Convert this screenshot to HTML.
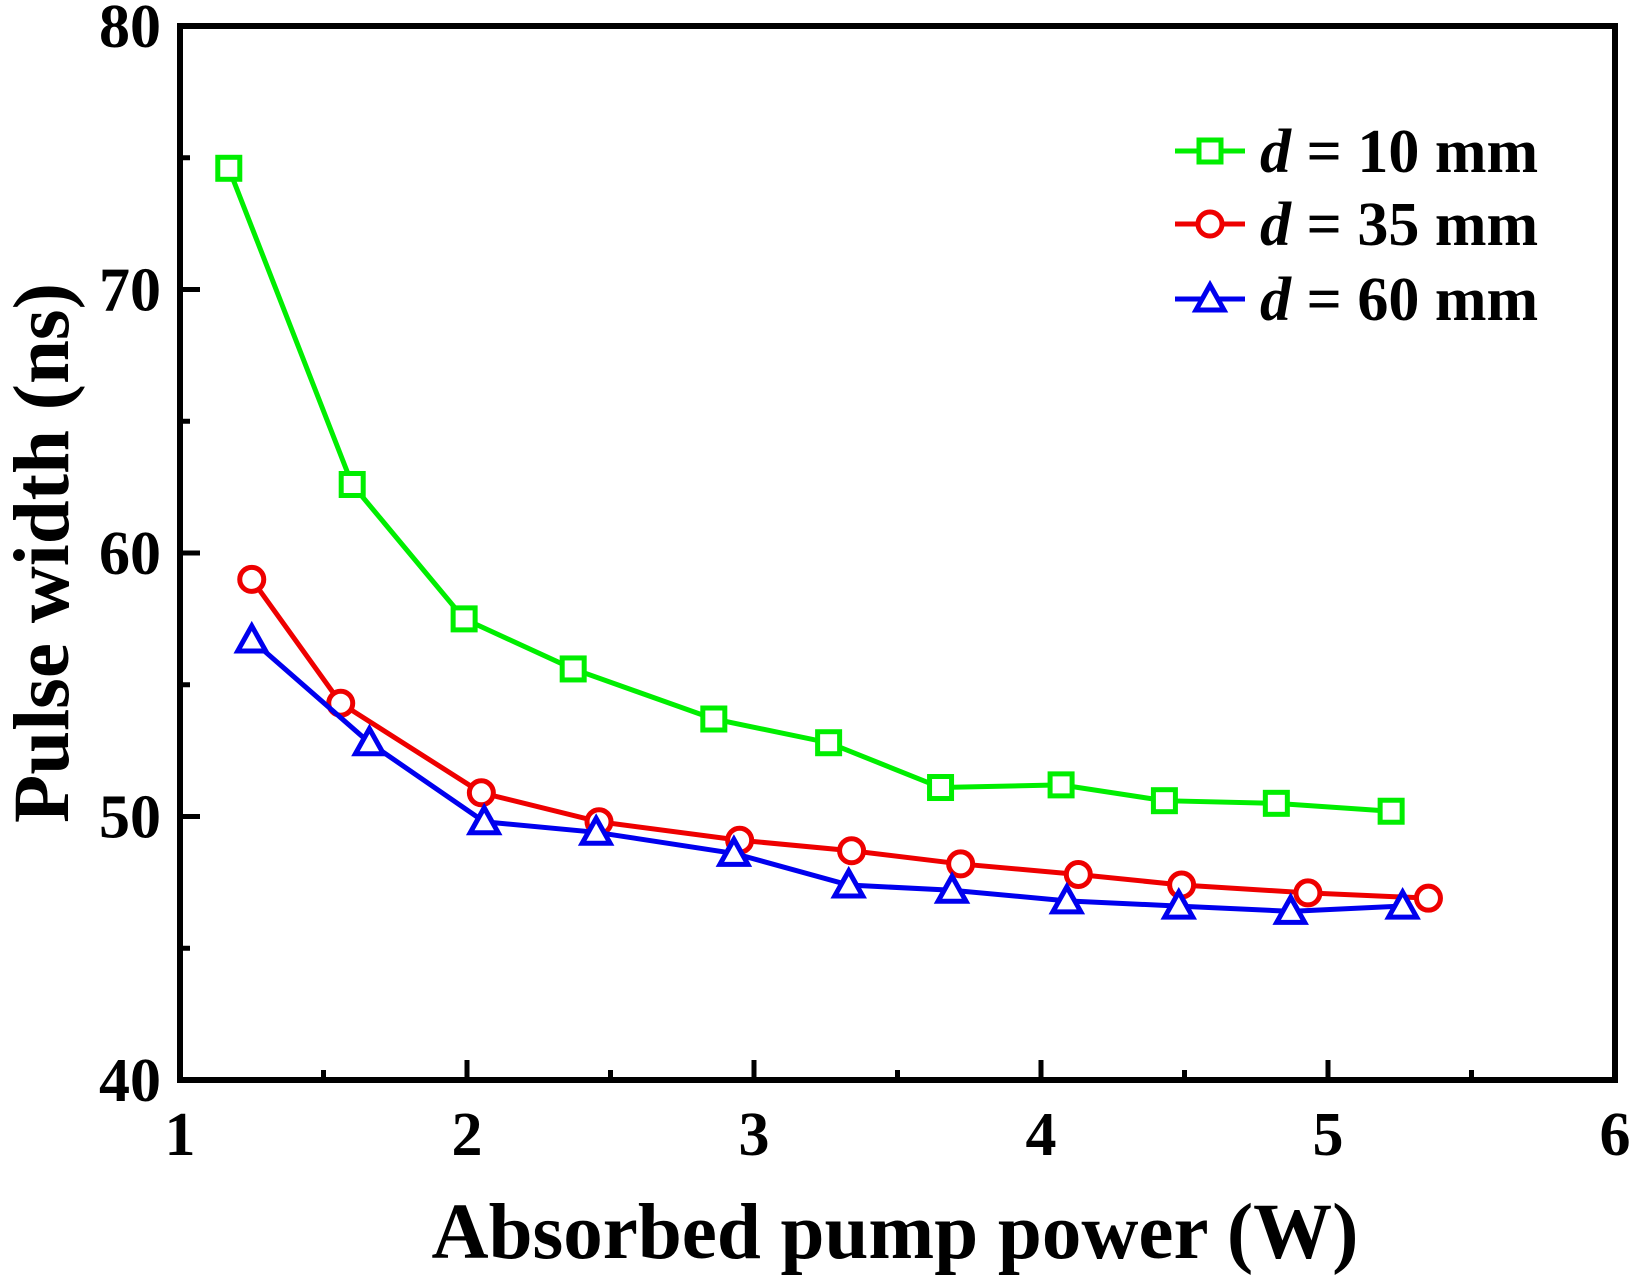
<!DOCTYPE html>
<html><head><meta charset="utf-8"><style>
html,body{margin:0;padding:0;background:#fff;}
svg{display:block;font-family:"Liberation Serif",serif;font-weight:bold;}
</style></head><body>
<svg id="chart" width="1632" height="1280" viewBox="0 0 1632 1280" xmlns="http://www.w3.org/2000/svg"></svg>
<script>
const xTicks=[1,2,3,4,5,6];
const yTicks=[40,50,60,70,80];
const x10=[1.17,1.60,1.99,2.37,2.86,3.26,3.65,4.07,4.43,4.82,5.22];
const y10=[74.6,62.6,57.5,55.6,53.7,52.8,51.1,51.2,50.6,50.5,50.2];
const x35=[1.25,1.56,2.05,2.46,2.95,3.34,3.72,4.13,4.49,4.93,5.35];
const y35=[59.0,54.3,50.9,49.8,49.1,48.7,48.2,47.8,47.4,47.1,46.9];
const x60=[1.25,1.66,2.06,2.45,2.93,3.33,3.69,4.09,4.48,4.87,5.26];
const y60=[56.7,52.8,49.8,49.4,48.6,47.4,47.2,46.8,46.6,46.4,46.6];
const legendLabels=["10 mm","35 mm","60 mm"];

const L=180,R=1615,T=26,B=1080;
const sx=v=>L+(v-1)/(6-1)*(R-L);
const sy=v=>B-(v-40)/(80-40)*(B-T);
const svg=document.getElementById('chart');
const NS="http://www.w3.org/2000/svg";
function mk(tag,attrs,parent){const e=document.createElementNS(NS,tag);for(const k in attrs)e.setAttribute(k,attrs[k]);(parent||svg).appendChild(e);return e;}

for(let i=0;i<xTicks.length;i++){
  const x=sx(xTicks[i]);
  const t=mk('line',{x1:x,x2:x,y1:B,y2:B-20,stroke:'#000','stroke-width':5});
  
  
  if(i<xTicks.length-1){const m=mk('line',{x1:sx(xTicks[i]+0.5),x2:sx(xTicks[i]+0.5),y1:B,y2:B-10,stroke:'#000','stroke-width':5});
  
  }
  const lb=mk('text',{x:x,y:1155,'font-size':62,'text-anchor':'middle'});
  lb.textContent=xTicks[i];
  
  
}
for(let i=0;i<yTicks.length;i++){
  const y=sy(yTicks[i]);
  const t=mk('line',{x1:L,x2:L+20,y1:y,y2:y,stroke:'#000','stroke-width':5});
  
  
  if(i<yTicks.length-1){const m=mk('line',{x1:L,x2:L+10,y1:sy(yTicks[i]+5),y2:sy(yTicks[i]+5),stroke:'#000','stroke-width':5});
  
  }
  const lb=mk('text',{x:161,y:y+21,'font-size':62,'text-anchor':'end'});
  lb.textContent=yTicks[i];
  
  
}
const frame=mk('rect',{x:L,y:T,width:R-L,height:B-T,fill:'none',stroke:'#000','stroke-width':6});



function marker(shape,cx,cy,color,name){
  let e;
  if(shape==='sq') e=mk('rect',{x:cx-11,y:cy-11,width:22,height:22,fill:'#fff',stroke:color,'stroke-width':5});
  else if(shape==='ci') e=mk('circle',{cx:cx,cy:cy,r:12,fill:'#fff',stroke:color,'stroke-width':5});
  else e=mk('polygon',{points:`${cx},${cy-14} ${cx+14},${cy+11} ${cx-14},${cy+11}`,fill:'#fff',stroke:color,'stroke-width':5});
  
  
}
const series=[[x10,y10,'#00ee00','sq','d10'],[x35,y35,'#ee0000','ci','d35'],[x60,y60,'#0000ee','tr','d60']];
series.forEach(([xs,ys,c,sh,nm])=>{
  const pts=xs.map((v,i)=>sx(v)+','+sy(ys[i])).join(' ');
  const pl=mk('polyline',{points:pts,fill:'none',stroke:c,'stroke-width':5});
  
  
  xs.forEach((v,i)=>marker(sh,sx(v),sy(ys[i]),c,'point-'+nm));
});
const ly=[151,224,299];
series.forEach(([xs,ys,c,sh,nm],i)=>{
  const ln=mk('line',{x1:1175,x2:1245,y1:ly[i],y2:ly[i],stroke:c,'stroke-width':5});
  
  
  marker(sh,1210,ly[i],c,'legend-marker-'+nm);
  const t=mk('text',{x:1260,y:ly[i]+21,'font-size':62});
  t.innerHTML='<tspan font-style="italic">d</tspan> = '+legendLabels[i];
  
  
});
const xt=mk('text',{x:895,y:1258,'font-size':79,'text-anchor':'middle'});
xt.textContent='Absorbed pump power (W)';


const yt=mk('text',{x:0,y:0,'font-size':79,'text-anchor':'middle',transform:'translate(68,553) rotate(-90)'});
yt.textContent='Pulse width (ns)';


</script>
</body></html>
